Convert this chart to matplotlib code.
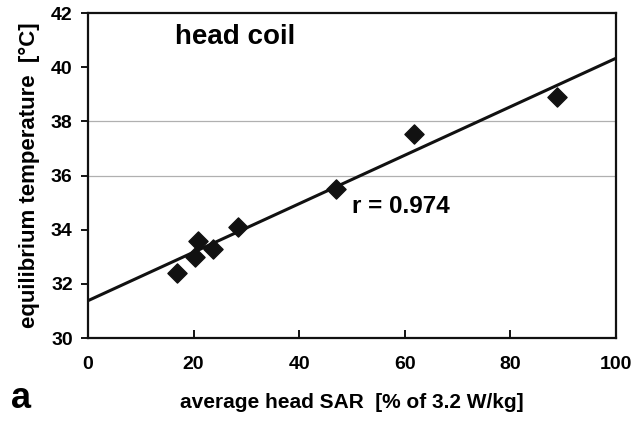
import matplotlib
matplotlib.use("Agg")
import matplotlib.pyplot as plt

# average head SAR (% of 3.2 W/kg) vs equilibrium temperature (deg C)
sar = [16.8, 20.3, 20.8, 23.6, 28.5, 47.0, 61.8, 88.9]
temp = [32.4, 33.0, 33.6, 33.3, 34.1, 35.5, 37.55, 38.9]

# regression line
fit_intercept = 31.38
fit_slope = 0.0895
r_text = "r = 0.974"

xticks = [0, 20, 40, 60, 80, 100]
yticks = [30, 32, 34, 36, 38, 40, 42]
grid_y = [36, 38]

plt.rcParams['font.family'] = ["Liberation Sans", "DejaVu Sans"]
plt.rcParams['font.weight'] = 'bold'

fig = plt.figure(figsize=(6.33, 4.21), dpi=100)
ax = fig.add_axes([0.139, 0.197, 0.834, 0.772])

for g in grid_y:
    ax.axhline(g, color='#b0b0b0', lw=0.9, zorder=0)

xs = [0, 100]
ax.plot(xs, [fit_intercept + fit_slope * x for x in xs], color='#111111', lw=2.2, zorder=2)
ax.scatter(sar, temp, marker='D', s=95, color='#111111', zorder=3)

ax.set_xlim(0, 100)
ax.set_ylim(30, 42)
ax.set_xticks(xticks)
ax.set_yticks(yticks)
ax.tick_params(axis='x', direction='in', length=6, width=1.3, pad=13, labelsize=14)
ax.tick_params(axis='y', direction='out', length=5, width=1.3, pad=6, labelsize=14)
for lab in ax.get_xticklabels() + ax.get_yticklabels():
    lab.set_fontweight('bold')
for s in ax.spines.values():
    s.set_linewidth(1.6)
    s.set_color('#111111')

ax.text(16.5, 41.1, "head coil", fontsize=20, fontweight='bold', va='center', ha='left')
ax.text(50, 34.85, r_text, fontsize=17.5, fontweight='bold', va='center', ha='left')

ax.set_xlabel("average head SAR  [% of 3.2 W/kg]", fontsize=15, fontweight='bold', labelpad=14)
ax.set_ylabel("equilibrium temperature  [°C]", fontsize=16, fontweight='bold', labelpad=8)
fig.text(0.018, 0.03, "a", fontsize=26, fontweight='bold')

fig.savefig("out.png", dpi=100)
